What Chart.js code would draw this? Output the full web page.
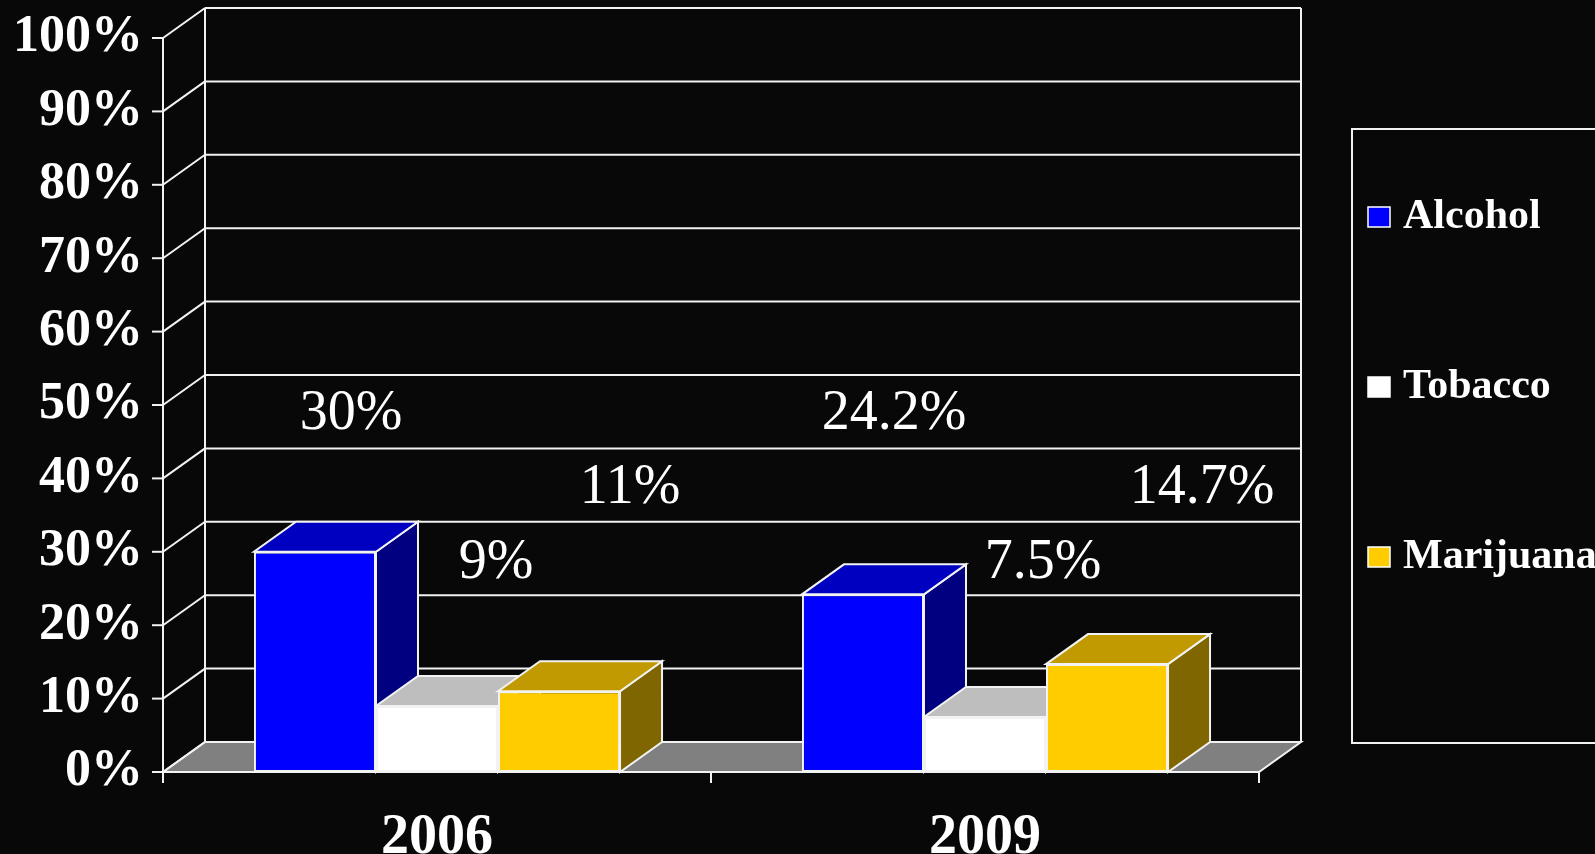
<!DOCTYPE html>
<html>
<head>
<meta charset="utf-8">
<script src="https://cdn.jsdelivr.net/npm/chart.js@4.4.1/dist/chart.umd.min.js"></script>
<style>
  html, body { margin: 0; padding: 0; background: #080808; }
  canvas { display: block; }
</style>
</head>
<body>
<canvas id="drugChart" width="1595" height="854"></canvas>
<script>
// data
const years = ['2006', '2009'];
const alcohol = [30, 24.2];
const tobacco = [9, 7.5];
const marijuana = [11, 14.7];
const yTickValues = [0, 10, 20, 30, 40, 50, 60, 70, 80, 90, 100];

const SERIF = '"Liberation Serif", "Times New Roman", serif';
const DX = 42, DY = -30;   // depth of the 3d box

// colours: front / top / side
const looks = {
    Alcohol:   { front: '#0000FF', top: '#0000C0', side: '#000080' },
    Tobacco:   { front: '#FFFFFF', top: '#BEBEBE', side: '#7F7F7F' },
    Marijuana: { front: '#FFCC00', top: '#C09A00', side: '#806600' }
};

function poly(ctx, pts, fill) {
    ctx.beginPath();
    ctx.moveTo(pts[0][0], pts[0][1]);
    for (let i = 1; i < pts.length; i++) ctx.lineTo(pts[i][0], pts[i][1]);
    ctx.closePath();
    if (fill) { ctx.fillStyle = fill; ctx.fill(); }
    ctx.stroke();
}

function line(ctx, x1, y1, x2, y2) {
    ctx.beginPath();
    ctx.moveTo(x1, y1);
    ctx.lineTo(x2, y2);
    ctx.stroke();
}

// walls, floor, grid and the hidden faces of the boxes
const box3d = {
    id: 'box3d',
    beforeDatasetsDraw(chart) {
        const { ctx, chartArea, scales } = chart;
        const y = scales.y;
        const left = chartArea.left, right = chartArea.right;
        const base = y.getPixelForValue(0);
        const topY = y.getPixelForValue(100);

        ctx.save();
        ctx.strokeStyle = '#F2F2F2';
        ctx.lineWidth = 2;

        // floor
        poly(ctx, [[left, base], [right, base], [right + DX, base + DY], [left + DX, base + DY]], '#808080');

        // grid on back and side wall + ticks
        yTickValues.forEach(v => {
            const py = y.getPixelForValue(v);
            line(ctx, left + DX, py + DY, right + DX, py + DY);
            line(ctx, left, py, left + DX, py + DY);
            line(ctx, left - 11, py, left, py);
        });
        line(ctx, left + DX, topY + DY, left + DX, base + DY);
        line(ctx, right + DX, topY + DY, right + DX, base + DY);
        line(ctx, left, topY, left, base + 11);

        // category ticks
        const catW = (right - left) / years.length;
        for (let i = 0; i <= years.length; i++) {
            line(ctx, left + i * catW, base, left + i * catW, base + 11);
        }

        // side + top faces, painted left to right
        for (let i = 0; i < years.length; i++) {
            chart.data.datasets.forEach((ds, d) => {
                const bar = chart.getDatasetMeta(d).data[i];
                const look = looks[ds.label];
                const x0 = bar.x - bar.width / 2, x1 = bar.x + bar.width / 2;
                const t = bar.y, b = bar.base;
                poly(ctx, [[x1, t], [x1 + DX, t + DY], [x1 + DX, b + DY], [x1, b]], look.side);
                poly(ctx, [[x0, t], [x1, t], [x1 + DX, t + DY], [x0 + DX, t + DY]], look.top);
            });
        }
        ctx.restore();
    },
    afterDatasetsDraw(chart) {
        const { ctx, scales } = chart;
        const y = scales.y;
        ctx.save();
        ctx.fillStyle = '#FFFFFF';
        ctx.font = '56px ' + SERIF;
        ctx.textAlign = 'center';
        ctx.textBaseline = 'alphabetic';
        chart.data.datasets.forEach((ds, d) => {
            chart.getDatasetMeta(d).data.forEach((bar, i) => {
                ctx.fillText(ds.data[i] + '%', bar.x + ds.labelDx[i], y.getPixelForValue(ds.labelLevel));
            });
        });
        ctx.restore();
    },
    afterDraw(chart) {
        const { ctx } = chart;
        ctx.save();
        // legend box
        ctx.strokeStyle = '#F2F2F2';
        ctx.lineWidth = 2;
        ctx.strokeRect(1352, 129, 300, 614);
        ctx.font = 'bold 42px ' + SERIF;
        ctx.textBaseline = 'alphabetic';
        ctx.textAlign = 'left';
        chart.data.datasets.forEach((ds, d) => {
            const by = 228 + d * 170;
            ctx.fillStyle = looks[ds.label].front;
            ctx.fillRect(1368, by - 21, 22, 20);
            ctx.lineWidth = 1.5;
            ctx.strokeStyle = '#FFFFFF';
            ctx.strokeRect(1368, by - 21, 22, 20);
            ctx.fillStyle = '#FFFFFF';
            ctx.fillText(ds.label, 1403, by);
        });
        ctx.restore();
    }
};

const ctx = document.getElementById('drugChart').getContext('2d');

const drugChart = new Chart(ctx, {
    type: 'bar',
    data: {
        labels: years,
        datasets: [
            { label: 'Alcohol', data: alcohol, backgroundColor: looks.Alcohol.front, labelDx: [36, 31], labelLevel: 46.7 },
            { label: 'Tobacco', data: tobacco, backgroundColor: looks.Tobacco.front, labelDx: [59, 58], labelLevel: 26.4 },
            { label: 'Marijuana', data: marijuana, backgroundColor: looks.Marijuana.front, labelDx: [71, 95], labelLevel: 36.6 }
        ]
    },
    options: {
        responsive: false,
        animation: false,
        layout: { padding: { top: 38, right: 336, left: 0, bottom: 0 } },
        datasets: {
            bar: {
                categoryPercentage: 0.668,
                barPercentage: 1.0,
                borderColor: '#F2F2F2',
                borderWidth: 2,
                borderSkipped: false
            }
        },
        plugins: {
            legend: { display: false },
            tooltip: { enabled: false }
        },
        scales: {
            x: {
                grid: { display: false, drawTicks: false, tickLength: 0 },
                border: { display: false },
                ticks: {
                    color: '#FFFFFF',
                    padding: 33,
                    font: { family: SERIF, size: 56, weight: 'bold' }
                },
                afterFit(scale) {
                    scale.height = 82;
                    scale.paddingLeft = 0;
                    scale.paddingRight = 0;
                }
            },
            y: {
                min: 0,
                max: 100,
                grid: { display: false, drawTicks: false, tickLength: 0 },
                border: { display: false },
                afterBuildTicks(scale) { scale.ticks = yTickValues.map(v => ({ value: v })); },
                ticks: {
                    color: '#FFFFFF',
                    padding: 20,
                    font: { family: SERIF, size: 52, weight: 'bold' },
                    callback: v => v + '%'
                },
                afterFit(scale) {
                    scale.width = 163;
                    scale.paddingTop = 0;
                    scale.paddingBottom = 0;
                }
            }
        }
    },
    plugins: [box3d]
});
</script>
</body>
</html>
